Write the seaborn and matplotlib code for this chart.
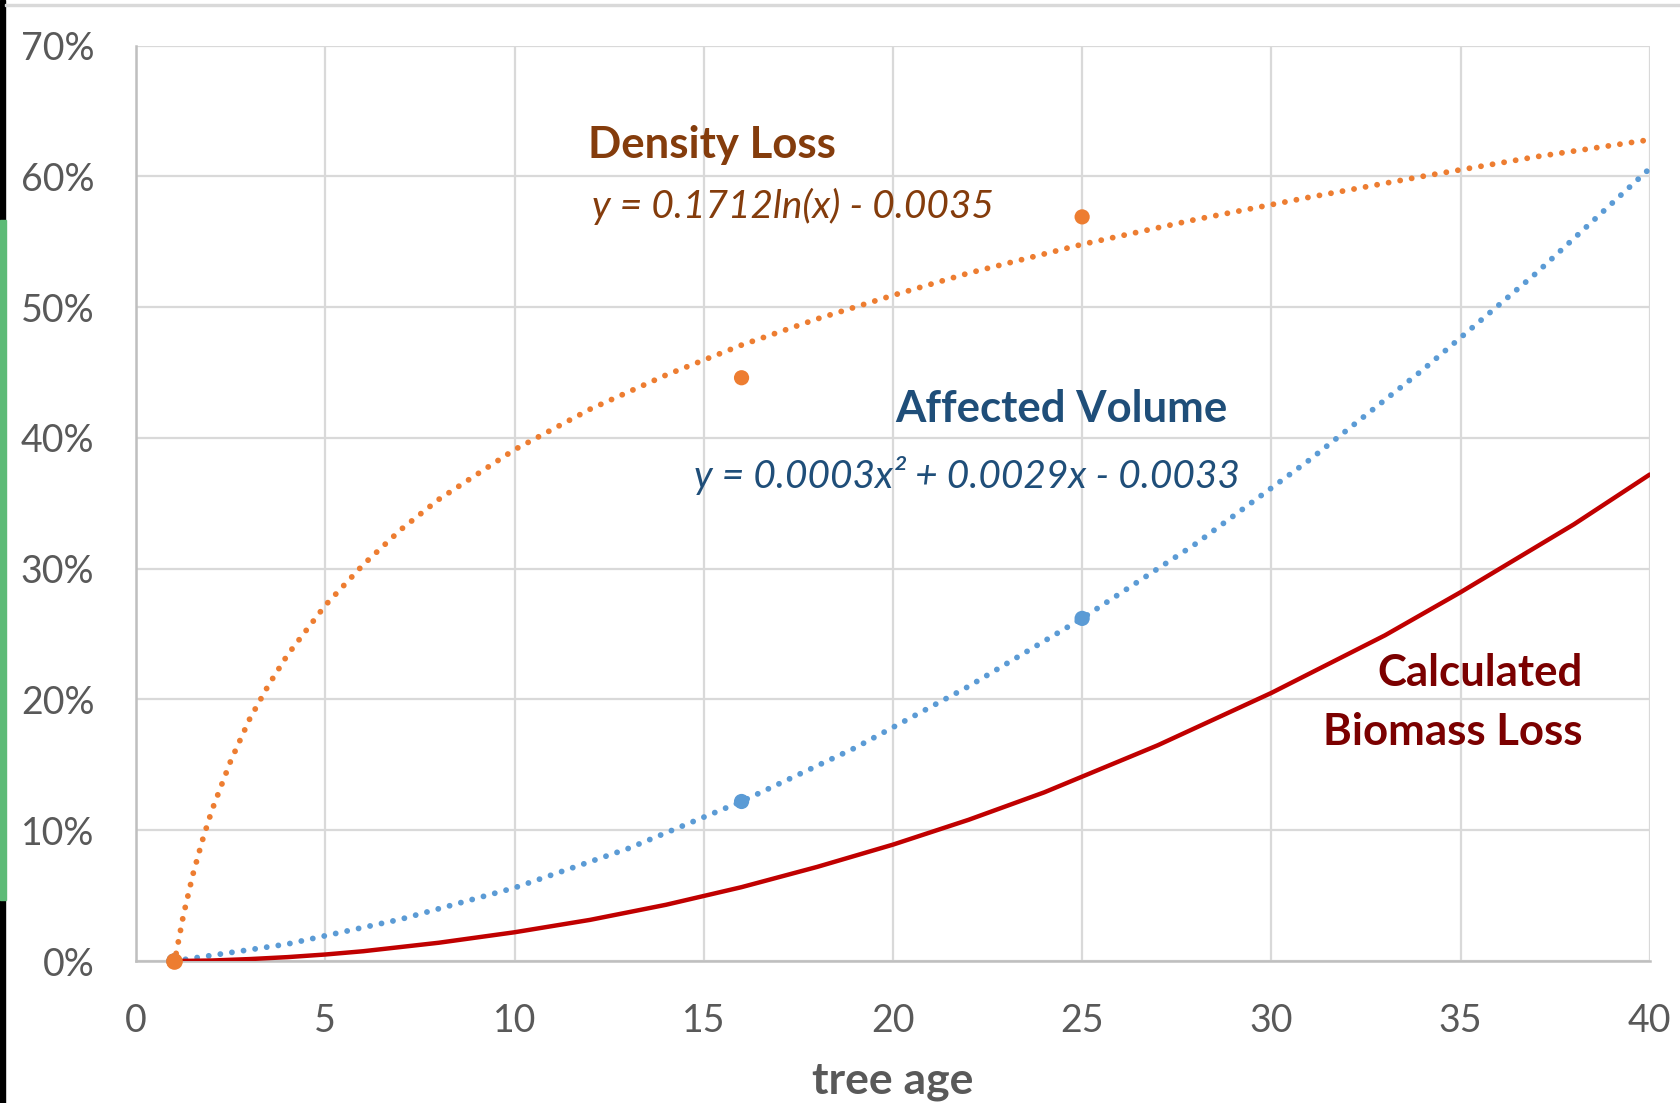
import numpy as np
import pandas as pd
import matplotlib
matplotlib.use('Agg')
import matplotlib.pyplot as plt
import matplotlib.patches as mpatches
from matplotlib.ticker import PercentFormatter, MultipleLocator
import seaborn as sns

###################################################################################
# Data

# measured points
obs_age = [1, 16, 25]
density_obs = [0.0, 0.446, 0.569]
volume_obs = [0.0, 0.122, 0.262]

# density loss trend line (log fit)
dens_age = [1, 1.25, 1.5, 1.75, 2, 2.5, 3, 3.5, 4, 5, 6, 7, 8, 10, 12, 14, 16, 18,
            20, 22, 25, 28, 31, 34, 37, 40]
dens_trend = [-0.003, 0.035, 0.066, 0.092, 0.115, 0.153, 0.185, 0.211, 0.234, 0.272,
              0.303, 0.330, 0.353, 0.391, 0.422, 0.448, 0.471, 0.491, 0.509, 0.526,
              0.548, 0.567, 0.584, 0.600, 0.615, 0.628]

# affected volume trend line (polynomial fit)
vol_age = [1, 4, 7, 10, 13, 16, 19, 22, 25, 28, 31, 34, 37, 40]
vol_trend = [0.0, 0.013, 0.032, 0.056, 0.086, 0.122, 0.163, 0.210, 0.262, 0.319,
             0.383, 0.452, 0.526, 0.606]

# calculated biomass loss
bio_age = [1, 2, 3, 4, 5, 6, 8, 10, 12, 14, 16, 18, 20, 22, 24, 25, 27, 30, 33, 35, 38, 40]
bio_loss = [0.0, 0.0004, 0.0015, 0.003, 0.005, 0.0075, 0.014, 0.022, 0.0315, 0.043,
            0.0565, 0.072, 0.089, 0.108, 0.129, 0.141, 0.165, 0.205, 0.249, 0.282,
            0.334, 0.372]

x_ticks = [0, 5, 10, 15, 20, 25, 30, 35, 40]

###################################################################################
# Plot

sns.set_style('white')
plt.rcParams['font.family'] = ['Lato', 'DejaVu Sans']

ORANGE = '#ED7D31'
BLUE = '#5B9BD5'
RED = '#C00000'
GREY = '#595959'

fig = plt.figure(figsize=(16.8, 11.03), dpi=100)
ax = fig.add_axes([0.081, 0.1287, 0.901, 0.830])

dotted = (0, (0.01, 2.0))
sns.lineplot(x=dens_age, y=dens_trend, ax=ax, color=ORANGE, lw=4.2,
             linestyle=dotted, dash_capstyle='round', zorder=3)
sns.lineplot(x=vol_age, y=vol_trend, ax=ax, color=BLUE, lw=4.2,
             linestyle=dotted, dash_capstyle='round', zorder=3)
sns.lineplot(x=bio_age, y=bio_loss, ax=ax, color=RED, lw=3.2, zorder=4)

sns.scatterplot(x=obs_age, y=density_obs, ax=ax, color=ORANGE, s=120,
                edgecolor='none', zorder=5, clip_on=False)
sns.scatterplot(x=obs_age, y=volume_obs, ax=ax, color=BLUE, s=120,
                edgecolor='none', zorder=5, clip_on=False)
# orange point at age 1 sits on top in the original
ax.scatter(obs_age[:1], density_obs[:1], color=ORANGE, s=120, zorder=6, clip_on=False)

ax.set_xlim(0, 40)
ax.set_ylim(0, 0.7)
ax.set_xticks(x_ticks)
ax.yaxis.set_major_locator(MultipleLocator(0.1))
ax.yaxis.set_major_formatter(PercentFormatter(1.0, decimals=0))
ax.tick_params(axis='both', length=0, labelsize=27, labelcolor=GREY)
ax.tick_params(axis='x', pad=30)
ax.tick_params(axis='y', pad=30)
ax.grid(True, color='#D9D9D9', lw=1.6)
ax.set_axisbelow(True)
for s in ['top', 'right']:
    ax.spines[s].set_visible(False)
for s in ['left', 'bottom']:
    ax.spines[s].set_color('#BFBFBF')
    ax.spines[s].set_linewidth(1.8)

ax.set_xlabel('tree age', fontsize=32, fontweight='bold', color=GREY, va='center')
ax.xaxis.set_label_coords(0.5, -0.131)
ax.set_ylabel('')

# series labels
BOLD = 31.5
EQ = 28
ax.text(11.95, 0.624, 'Density Loss', fontsize=BOLD, fontweight='bold',
        color='#843C0C', ha='left', va='center')
ax.text(12.05, 0.577, 'y = 0.1712ln(x) - 0.0035', fontsize=EQ, style='italic',
        color='#843C0C', ha='left', va='center')
ax.text(20.05, 0.422, 'Affected Volume', fontsize=BOLD, fontweight='bold',
        color='#1F4E79', ha='left', va='center')
ax.text(14.75, 0.371, 'y = 0.0003x² + 0.0029x - 0.0033', fontsize=EQ, style='italic',
        color='#1F4E79', ha='left', va='center')
ax.text(38.22, 0.220, 'Calculated', fontsize=BOLD, fontweight='bold',
        color='#7B0000', ha='right', va='center')
ax.text(38.22, 0.175, 'Biomass Loss', fontsize=BOLD, fontweight='bold',
        color='#7B0000', ha='right', va='center')

# screenshot edges
fig.patches.append(mpatches.Rectangle((0, 0), 5 / 1680, 1, transform=fig.transFigure,
                                      color='black', zorder=10))
fig.patches.append(mpatches.Rectangle((0, 1 - 900 / 1103), 6 / 1680, 680 / 1103,
                                      transform=fig.transFigure, color='#5DBB77', zorder=11))
fig.patches.append(mpatches.Rectangle((5 / 1680, 1 - 6 / 1103), 1, 2.5 / 1103,
                                      transform=fig.transFigure, color='#D9D9D9', zorder=10))

fig.savefig('out.png', dpi=100)
